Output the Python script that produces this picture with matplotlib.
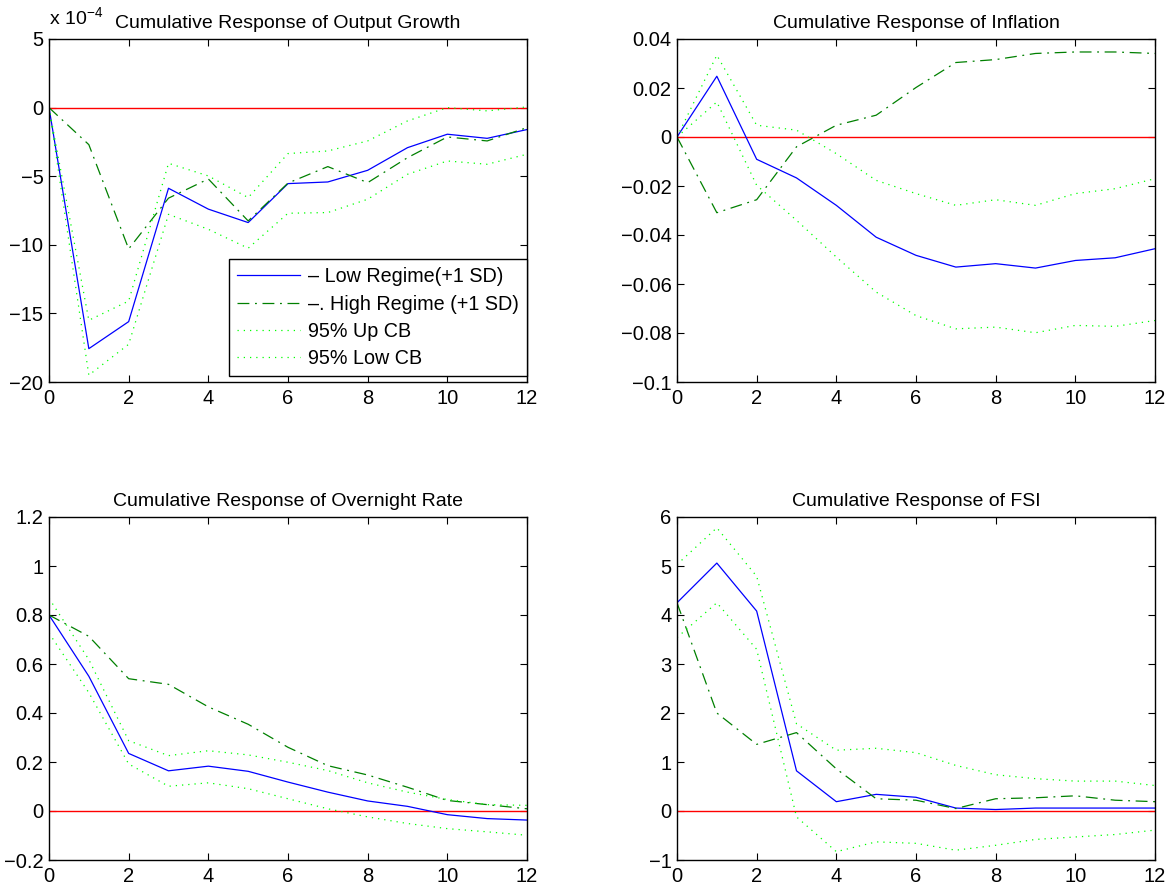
import matplotlib
matplotlib.use("Agg")
import matplotlib.pyplot as plt

plt.rcParams['font.family'] = ['Liberation Sans', 'DejaVu Sans']

horizon = list(range(13))

# output growth (units of 1e-4)
out_low = [0, -17.57, -15.6, -5.88, -7.4, -8.38, -5.54, -5.42, -4.57, -2.92, -1.94, -2.24, -1.6]
out_high = [0, -2.7, -10.3, -6.6, -5.2, -8.26, -5.5, -4.3, -5.47, -3.65, -2.14, -2.43, -1.46]
out_up = [0, -15.5, -14.1, -4.06, -4.98, -6.56, -3.35, -3.16, -2.43, -0.97, 0.0, -0.24, 0.05]
out_lo = [0, -19.5, -17.25, -7.78, -8.87, -10.25, -7.7, -7.65, -6.68, -4.86, -3.89, -4.13, -3.4]

# inflation
inf_low = [0, 0.0248, -0.0091, -0.0167, -0.0279, -0.0409, -0.0483, -0.0531, -0.0517, -0.0535, -0.0504, -0.0493, -0.0456]
inf_high = [0, -0.0309, -0.0256, -0.004, 0.0048, 0.0089, 0.0202, 0.0304, 0.0316, 0.0341, 0.0347, 0.0347, 0.0341]
inf_up = [0, 0.0334, 0.0048, 0.0028, -0.0068, -0.0177, -0.0231, -0.0279, -0.0256, -0.0279, -0.0231, -0.0211, -0.017]
inf_lo = [0, 0.0143, -0.0197, -0.034, -0.049, -0.0633, -0.0729, -0.0783, -0.0776, -0.0799, -0.0769, -0.0773, -0.0749]

# overnight rate
rate_low = [0.80, 0.55, 0.235, 0.164, 0.183, 0.162, 0.118, 0.077, 0.041, 0.019, -0.015, -0.031, -0.037]
rate_high = [0.80, 0.713, 0.54, 0.517, 0.425, 0.354, 0.26, 0.185, 0.147, 0.097, 0.043, 0.026, 0.009]
rate_up = [0.868, 0.618, 0.287, 0.226, 0.246, 0.229, 0.199, 0.165, 0.115, 0.077, 0.047, 0.026, 0.023]
rate_lo = [0.726, 0.483, 0.192, 0.101, 0.115, 0.091, 0.05, 0.009, -0.024, -0.051, -0.072, -0.085, -0.099]

# FSI
fsi_low = [4.25, 5.06, 4.08, 0.82, 0.19, 0.34, 0.28, 0.06, 0.03, 0.06, 0.06, 0.06, 0.06]
fsi_high = [4.25, 2.0, 1.36, 1.6, 0.86, 0.25, 0.22, 0.05, 0.25, 0.27, 0.31, 0.22, 0.19]
fsi_up = [5.03, 5.78, 4.79, 1.78, 1.24, 1.28, 1.19, 0.93, 0.74, 0.66, 0.61, 0.61, 0.52]
fsi_lo = [3.54, 4.25, 3.3, -0.12, -0.83, -0.63, -0.66, -0.8, -0.7, -0.58, -0.53, -0.48, -0.39]

titles = ['Cumulative Response of Output Growth', 'Cumulative Response of Inflation',
          'Cumulative Response of Overnight Rate', 'Cumulative Response of FSI']
ylims = [(-20, 5), (-0.1, 0.04), (-0.2, 1.2), (-1, 6)]
yticks = [[-20, -15, -10, -5, 0, 5],
          [-0.1, -0.08, -0.06, -0.04, -0.02, 0, 0.02, 0.04],
          [-0.2, 0, 0.2, 0.4, 0.6, 0.8, 1, 1.2],
          [-1, 0, 1, 2, 3, 4, 5, 6]]
ytick_labels = [['\u221220', '\u221215', '\u221210', '\u22125', '0', '5'],
                ['\u22120.1', '\u22120.08', '\u22120.06', '\u22120.04', '\u22120.02', '0', '0.02', '0.04'],
                ['\u22120.2', '0', '0.2', '0.4', '0.6', '0.8', '1', '1.2'],
                ['\u22121', '0', '1', '2', '3', '4', '5', '6']]
series = [(out_low, out_high, out_up, out_lo),
          (inf_low, inf_high, inf_up, inf_lo),
          (rate_low, rate_high, rate_up, rate_lo),
          (fsi_low, fsi_high, fsi_up, fsi_lo)]
legend_labels = ['\u2013 Low Regime(+1 SD)', '\u2013. High Regime (+1 SD)', '95% Up CB', '95% Low CB']

fig = plt.figure(figsize=(11.76, 8.93), dpi=100)
W, H = 1176.0, 893.0
boxes = [(49, 39), (677, 39), (49, 517), (677, 517)]
aw, ah = 478, 343

for i in range(4):
    x0, y0 = boxes[i]
    ax = fig.add_axes([x0 / W, (H - y0 - ah) / H, aw / W, ah / H])
    low, high, up, lo = series[i]
    ax.plot(horizon, [0] * len(horizon), color='red', lw=1.0)
    l1, = ax.plot(horizon, low, color='blue', lw=0.9)
    l2, = ax.plot(horizon, high, color=(0, 0.5, 0), lw=0.9, linestyle=(0, (9.5, 4.5, 1.5, 4.5)))
    l3, = ax.plot(horizon, up, color=(0, 1, 0), lw=0.9, linestyle=(0, (1, 4)))
    l4, = ax.plot(horizon, lo, color=(0, 1, 0), lw=0.9, linestyle=(0, (1, 4)))
    ax.set_xlim(0, 12)
    ax.set_ylim(*ylims[i])
    ax.set_xticks(range(0, 13, 2))
    ax.set_yticks(yticks[i])
    ax.set_yticklabels(ytick_labels[i])
    ax.tick_params(direction='in', top=True, right=True, length=5, width=0.8, labelsize=14.5)
    ax.tick_params(axis='x', pad=5)
    ax.tick_params(axis='y', pad=4)
    for sp in ax.spines.values():
        sp.set_linewidth(1.0)
    ax.set_title(titles[i], fontsize=14, pad=8)
    if i == 0:
        # MATLAB-style exponent label above the y axis
        ax.text(0.0, 1.028, 'x 10$^{\\mathregular{\u22124}}$', transform=ax.transAxes,
                fontsize=14, ha='left', va='bottom')
        leg = ax.legend([l1, l2, l3, l4], legend_labels, loc='lower right',
                        bbox_to_anchor=(1.0, 0.0175), borderaxespad=0, fontsize=14.2,
                        fancybox=False, framealpha=1, edgecolor='black',
                        handlelength=3.2, handletextpad=0.4, labelspacing=0.42,
                        borderpad=0.4)
        leg.get_frame().set_linewidth(1.0)

fig.savefig('out.png', dpi=100)
